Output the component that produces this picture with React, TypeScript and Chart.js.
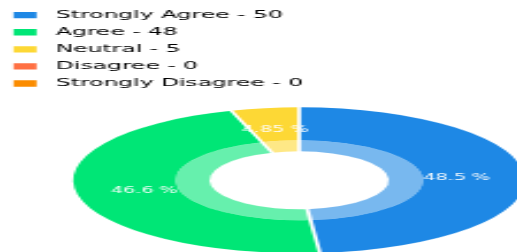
import React, { useEffect, useRef } from "react";
import { Chart, registerables } from "chart.js";

Chart.register(...registerables);

const categories = ["Strongly Agree", "Agree", "Neutral", "Disagree", "Strongly Disagree"];
const counts = [50, 48, 5, 0, 0];
const colors = ["#1E88E5", "#00E676", "#FDD835", "#FF7043", "#FB8C00"];
const lightColors = [
  "rgba(30,136,229,0.6)",
  "rgba(0,230,118,0.6)",
  "rgba(253,216,53,0.6)",
  "rgba(255,112,67,0.6)",
  "rgba(251,140,0,0.6)",
];

const STRETCH = 1.345;
const CANVAS_W = 261;
const CANVAS_H = 262;
const SCALE_X = 2.301;
const FONT = "'DejaVu Sans', sans-serif";

const ellipsePlugin = {
  id: "ellipse",
  beforeDatasetsDraw(chart: any) {
    const arc = chart.getDatasetMeta(0).data[0];
    const ctx = chart.ctx;
    ctx.save();
    ctx.translate(arc.x, arc.y);
    ctx.scale(STRETCH, 1);
    ctx.translate(-arc.x, -arc.y);
  },
  afterDatasetsDraw(chart: any) {
    const ctx = chart.ctx;
    const outer = chart.getDatasetMeta(0).data;
    const inner = chart.getDatasetMeta(1).data;
    const rIn = inner[0].innerRadius;
    ctx.strokeStyle = "#ffffff";
    ctx.lineWidth = 1.3;
    outer.forEach((a: any, i: number) => {
      if (!counts[i]) return;
      const c = Math.cos(a.startAngle);
      const s = Math.sin(a.startAngle);
      ctx.beginPath();
      ctx.moveTo(a.x + c * (rIn - 1), a.y + s * (rIn - 1));
      ctx.lineTo(a.x + c * (a.outerRadius + 1), a.y + s * (a.outerRadius + 1));
      ctx.stroke();
    });
    ctx.restore();

    const total = counts.reduce((sum, v) => sum + v, 0);
    ctx.save();
    ctx.font = `8.3px ${FONT}`;
    ctx.fillStyle = "rgba(255,255,255,0.95)";
    ctx.textAlign = "center";
    ctx.textBaseline = "middle";
    outer.forEach((a: any, i: number) => {
      if (!counts[i]) return;
      const mid = (a.startAngle + a.endAngle) / 2;
      const r = (rIn + a.outerRadius) / 2;
      const label = `${((counts[i] / total) * 100).toPrecision(3)} %`;
      ctx.fillText(label, a.x + Math.cos(mid) * r * STRETCH, a.y + Math.sin(mid) * r);
    });
    ctx.restore();
  },
};

export default function App() {
  const ref = useRef<HTMLCanvasElement>(null);

  useEffect(() => {
    if (!ref.current) return;
    const chart = new Chart(ref.current, {
      type: "doughnut",
      data: {
        labels: categories,
        datasets: [
          { data: counts, backgroundColor: colors, borderWidth: 0, weight: 3 },
          { data: counts, backgroundColor: lightColors, borderWidth: 0, weight: 1 },
        ],
      } as any,
      options: {
        responsive: false,
        animation: false,
        events: [],
        cutout: "39.7%",
        radius: 73,
        layout: { padding: { top: 3.2, left: -1, right: 1, bottom: 0 } },
        plugins: {
          tooltip: { enabled: false },
          legend: {
            position: "top",
            align: "start",
            labels: {
              boxWidth: 10,
              boxHeight: 6.3,
              padding: 6.88,
              color: "#3c3c3c",
              font: { family: FONT, size: 10.2 },
              generateLabels: () =>
                categories.map((c, i) => ({
                  text: (" " + c + " - " + counts[i]).padEnd(64, " "),
                  fillStyle: colors[i],
                  strokeStyle: colors[i],
                  lineWidth: 0,
                  hidden: false,
                  index: i,
                  datasetIndex: 0,
                })),
            },
          },
        },
      } as any,
      plugins: [ellipsePlugin],
    });
    return () => chart.destroy();
  }, []);

  return (
    <div
      style={{
        position: "fixed",
        left: 0,
        top: 0,
        width: 517,
        height: 252,
        overflow: "hidden",
        background: "#ffffff",
      }}
    >
      <div
        style={{
          width: CANVAS_W,
          height: CANVAS_H,
          transform: `scaleX(${SCALE_X})`,
          transformOrigin: "0 0",
        }}
      >
        <canvas ref={ref} width={CANVAS_W} height={CANVAS_H} style={{ display: "block" }} />
      </div>
    </div>
  );
}
